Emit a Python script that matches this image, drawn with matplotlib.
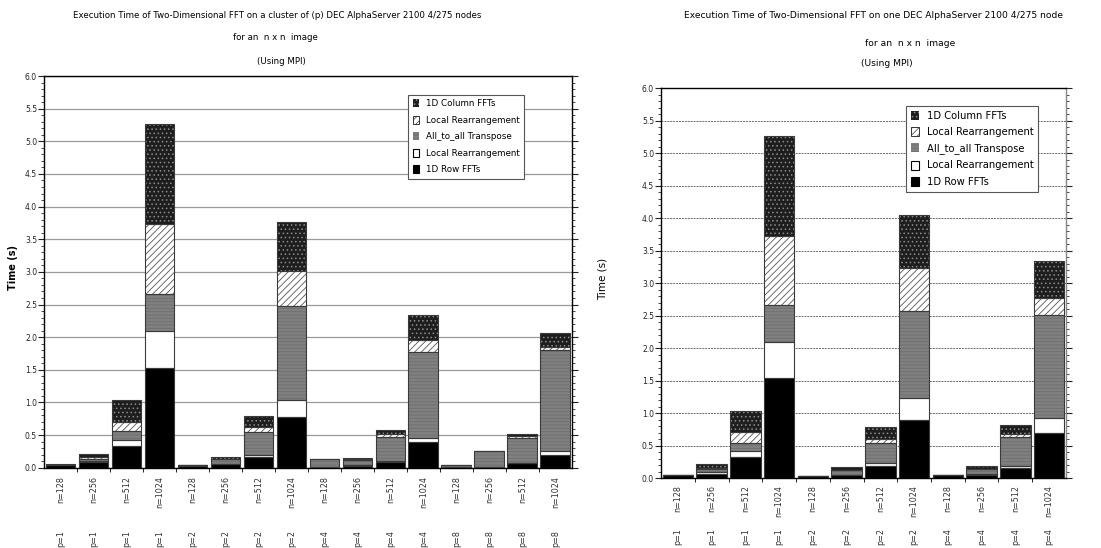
import matplotlib
matplotlib.use("Agg")
import matplotlib.pyplot as plt
from matplotlib.patches import Patch
from matplotlib.ticker import MultipleLocator
import numpy as np

# ---- data (seconds) -------------------------------------------------------
SERIES = ["1D Column FFTs", "Local Rearrangement", "All_to_all Transpose",
          "Local Rearrangement", "1D Row FFTs"]

# left: cluster of p nodes, 16 configurations
left_p = [1, 1, 1, 1, 2, 2, 2, 2, 4, 4, 4, 4, 8, 8, 8, 8]
left_n = [128, 256, 512, 1024] * 4
left_row = [0.04, 0.08, 0.33, 1.53, 0.03, 0.05, 0.17, 0.77,
            0.01, 0.03, 0.09, 0.39, 0.005, 0.01, 0.07, 0.20]
left_local1 = [0.005, 0.02, 0.09, 0.57, 0.005, 0.01, 0.03, 0.26,
               0.0, 0.005, 0.02, 0.07, 0.0, 0.0, 0.005, 0.06]
left_transpose = [0.0, 0.04, 0.14, 0.56, 0.0, 0.07, 0.35, 1.45,
                  0.12, 0.085, 0.36, 1.32, 0.03, 0.245, 0.385, 1.55]
left_local2 = [0.0, 0.02, 0.14, 1.07, 0.0, 0.01, 0.07, 0.53,
               0.0, 0.01, 0.04, 0.18, 0.0, 0.0, 0.02, 0.04]
left_col = [0.005, 0.05, 0.33, 1.53, 0.005, 0.03, 0.17, 0.76,
            0.0, 0.015, 0.07, 0.38, 0.0, 0.005, 0.04, 0.22]

# right: one node, 12 configurations
right_p = [1, 1, 1, 1, 2, 2, 2, 2, 4, 4, 4, 4]
right_n = [128, 256, 512, 1024] * 3
right_row = [0.045, 0.07, 0.33, 1.54, 0.03, 0.05, 0.195, 0.89,
             0.045, 0.055, 0.165, 0.70]
right_local1 = [0.005, 0.02, 0.09, 0.56, 0.0, 0.005, 0.035, 0.34,
                0.0, 0.005, 0.03, 0.23]
right_transpose = [0.0, 0.06, 0.13, 0.56, 0.01, 0.075, 0.31, 1.34,
                   0.005, 0.08, 0.435, 1.58]
right_local2 = [0.0, 0.01, 0.16, 1.07, 0.0, 0.005, 0.06, 0.67,
                0.0, 0.01, 0.05, 0.27]
right_col = [0.0, 0.055, 0.33, 1.53, 0.0, 0.045, 0.19, 0.81,
             0.0, 0.04, 0.14, 0.56]

TITLE_LEFT = ["Execution Time of Two-Dimensional FFT on a cluster of (p) DEC AlphaServer 2100 4/275 nodes",
              "for an  n x n  image", "(Using MPI)"]
TITLE_RIGHT = ["Execution Time of Two-Dimensional FFT on one DEC AlphaServer 2100 4/275 node",
               "for an  n x n  image", "(Using MPI)"]

# segment styles, bottom to top: (face, hatch, hatch colour)
STYLES = [
    ("#000000", None, "#000000"),     # 1D Row FFTs
    ("#ffffff", None, "#ffffff"),     # Local Rearrangement (plain)
    ("#808080", "-----", "#6e6e6e"),  # All_to_all Transpose
    ("#ffffff", "/////", "#555555"),  # Local Rearrangement (hatched)
    ("#1e1e1e", "....", "#8c8c8c"),   # 1D Column FFTs
]

plt.rcParams["font.family"] = "DejaVu Sans"
plt.rcParams["hatch.linewidth"] = 0.6


def draw_panel(ax, segs, p_vals, n_vals, grid_ls, legend_font, legend_anchor,
               legend_spacing, ylabel_weight, ylabel_size, ylabel_x, n_y, p_y):
    x = np.arange(len(p_vals))
    bottom = np.zeros(len(p_vals))
    for vals, (face, hatch, hcol) in zip(segs, STYLES):
        vals = np.asarray(vals)
        ax.bar(x, vals, 0.9, bottom=bottom, color=face, hatch=hatch,
               edgecolor=hcol, linewidth=0, zorder=2)
        ax.bar(x, vals, 0.9, bottom=bottom, fill=False,
               edgecolor="#3a3a3a", linewidth=0.8, zorder=3)
        bottom += vals

    ax.set_xlim(-0.5, len(p_vals) - 0.5)
    ax.set_ylim(0, 6.0)
    ax.yaxis.set_major_locator(MultipleLocator(0.5))
    ax.yaxis.set_minor_locator(MultipleLocator(0.1))
    ax.yaxis.set_major_formatter(matplotlib.ticker.FormatStrFormatter("%.1f"))
    ax.set_xticks([])
    ax.set_xticks(x[:-1] + 0.5, minor=True)
    ax.tick_params(axis="x", which="minor", length=3, width=0.6, direction="out")
    ax.tick_params(axis="y", which="major", length=4, width=0.8, labelsize=5.5,
                   right=True, direction="out", pad=1, colors="#222")
    ax.tick_params(axis="y", which="minor", length=2, width=0.5, right=True,
                   direction="out")
    ax.set_axisbelow(True)
    if grid_ls == "solid":
        ax.yaxis.grid(True, color="#9a9a9a", linewidth=0.9, linestyle="-")
    else:
        ax.yaxis.grid(True, color="#6a6a6a", linewidth=0.7, linestyle=(0, (2, 1)))
    for side in ax.spines.values():
        side.set_linewidth(1.0)

    ax.set_ylabel("Time (s)", fontsize=ylabel_size, fontweight=ylabel_weight)
    ax.yaxis.set_label_coords(ylabel_x, 0.51)

    tr = ax.get_xaxis_transform()
    for xi, p, n in zip(x, p_vals, n_vals):
        ax.text(xi, n_y, f"n={n}", rotation=90, ha="center", va="top",
                fontsize=5.8, color="#333", transform=tr)
        ax.text(xi, p_y, f"p={p}", rotation=90, ha="center", va="bottom",
                fontsize=5.8, color="#333", transform=tr)

    handles = [
        (Patch(facecolor="#1e1e1e", hatch="....", edgecolor="#8c8c8c", linewidth=0),),
        (Patch(facecolor="#ffffff", hatch="/////", edgecolor="#555555", linewidth=0),
         Patch(fill=False, edgecolor="#333", linewidth=0.7)),
        (Patch(facecolor="#808080", hatch="-----", edgecolor="#6e6e6e", linewidth=0),),
        (Patch(facecolor="#ffffff", edgecolor="#000", linewidth=0.8),),
        (Patch(facecolor="#000000", edgecolor="#000", linewidth=0.8),),
    ]
    leg = ax.legend(handles, SERIES, loc="upper left", bbox_to_anchor=legend_anchor,
                    fontsize=legend_font, frameon=True, fancybox=False,
                    edgecolor="#555", framealpha=1, handlelength=0.75,
                    handleheight=1.0, handletextpad=0.8,
                    labelspacing=legend_spacing, borderpad=0.5, borderaxespad=0)
    leg.get_frame().set_linewidth(0.8)
    leg.set_zorder(5)


fig = plt.figure(figsize=(11.01, 5.48), dpi=100)
ax_l = fig.add_axes([0.0400, 0.1465, 0.4793, 0.7148])
ax_r = fig.add_axes([0.6004, 0.1272, 0.3678, 0.7117])

draw_panel(ax_l, [left_row, left_local1, left_transpose, left_local2, left_col],
           left_p, left_n, "solid", 6.3, (0.690, 0.9515), 0.85,
           "bold", 7, -0.049, -0.021, -0.2025)
draw_panel(ax_r, [right_row, right_local1, right_transpose, right_local2, right_col],
           right_p, right_n, "dashed", 7.2, (0.605, 0.9546), 0.62,
           "normal", 7.5, -0.133, -0.017, -0.171)
ax_r.spines["right"].set_color("#888")
ax_r.spines["right"].set_linestyle((0, (2, 1)))

for txt, yy, xx in zip(TITLE_LEFT, [15, 38, 62], [277, 275, 281]):
    fig.text(xx / 1101, 1 - yy / 548, txt, ha="center", va="center", fontsize=6.2)
for txt, yy, xx in zip(TITLE_RIGHT, [15, 43, 64], [874, 910, 887]):
    fig.text(xx / 1101, 1 - yy / 548, txt, ha="center", va="center", fontsize=6.6)

fig.savefig("out.png", dpi=100)
